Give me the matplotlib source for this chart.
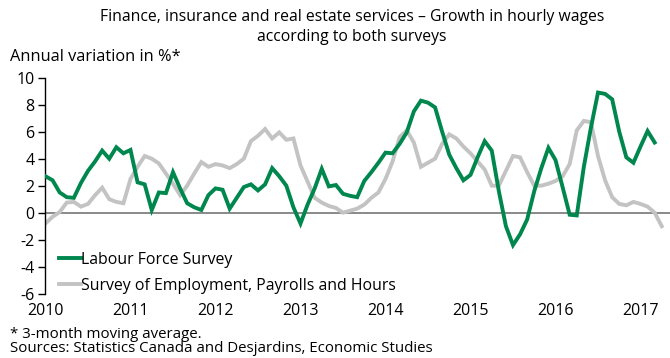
import matplotlib
matplotlib.use("Agg")
import matplotlib.pyplot as plt
import numpy as np

plt.rcParams['font.family'] = ['Open Sans', 'DejaVu Sans']

start_year = 2010
lfs = [2.7, 2.4, 1.5, 1.15, 1.1, 2.2, 3.1, 3.8, 4.6, 4.0, 4.85, 4.4,
       4.65, 2.25, 2.1, 0.2, 1.5, 1.45, 3.0, 1.8, 0.7, 0.4, 0.2, 1.3,
       1.8, 1.7, 0.3, 1.1, 1.9, 2.1, 1.65, 2.1, 3.3, 2.7, 2.0, 0.4,
       -0.8, 0.6, 1.8, 3.25, 1.95, 2.05, 1.4, 1.25, 1.15, 2.35, 3.0, 3.7,
       4.45, 4.4, 5.1, 5.95, 7.5, 8.3, 8.15, 7.8, 6.0, 4.3, 3.3, 2.4,
       2.8, 4.1, 5.3, 4.6, 1.6, -1.0, -2.4, -1.6, -0.5, 1.6, 3.3, 4.8,
       3.9, 1.9, -0.15, -0.2, 3.4, 6.3, 8.9, 8.8, 8.4, 6.0, 4.1, 3.7,
       4.9, 6.05, 5.2]
seph = [-0.8, -0.3, 0.05, 0.75, 0.8, 0.45, 0.65, 1.3, 1.85, 1.0, 0.8, 0.7,
        2.5, 3.4, 4.2, 4.0, 3.65, 2.9, 2.15, 1.3, 2.0, 2.9, 3.75, 3.4,
        3.6, 3.5, 3.3, 3.6, 4.0, 5.3, 5.7, 6.2, 5.5, 5.95, 5.4, 5.5,
        3.5, 2.3, 1.1, 0.75, 0.5, 0.35, 0.0, 0.15, 0.3, 0.6, 1.1, 1.5,
        2.5, 3.8, 5.6, 6.1, 5.2, 3.4, 3.7, 4.0, 5.1, 5.8, 5.5, 4.9,
        4.4, 3.8, 3.2, 2.0, 2.0, 3.1, 4.2, 4.1, 3.0, 2.0, 2.0, 2.15,
        2.35, 2.7, 3.6, 6.1, 6.8, 6.7, 4.2, 2.4, 1.15, 0.65, 0.55, 0.8,
        0.65, 0.45, 0.0, -1.0]
years = list(range(2010, 2018))
yticks = list(range(-6, 11, 2))

x_lfs = start_year + np.arange(len(lfs)) / 12.0
x_seph = start_year + np.arange(len(seph)) / 12.0

GREEN = '#00874E'
GREY = '#C3C3C3'

fig = plt.figure(figsize=(6.70, 3.58), dpi=100)
ax = fig.add_axes([45.5 / 670, 1 - 293.7 / 358, 1 - 45.5 / 670, 216 / 358])

ax.axhline(0, color='#808080', lw=1.3, zorder=1)
ax.plot(x_lfs, lfs, color=GREEN, lw=2.8, label='Labour Force Survey', zorder=3,
        solid_joinstyle='miter')
ax.plot(x_seph, seph, color=GREY, lw=2.8, label='Survey of Employment, Payrolls and Hours',
        zorder=2, solid_joinstyle='miter')

ax.set_xlim(2010, 2010 + 624.5 / 85)
ax.set_ylim(-6, 10)
ax.set_yticks(yticks)
ax.set_yticklabels([str(v) for v in yticks])
ax.set_xticks(years)
ax.set_xticklabels([str(y) for y in years])
for s in ['top', 'right', 'bottom']:
    ax.spines[s].set_visible(False)
ax.spines['left'].set_linewidth(1.0)
ax.tick_params(axis='y', direction='out', length=5, width=1.0, labelsize=11.5, pad=3)
ax.tick_params(axis='x', length=0, labelsize=11.5, pad=7)

leg = ax.legend(loc='lower left', bbox_to_anchor=(0.012, -0.03), frameon=False,
                fontsize=11.4, handlelength=1.4, handletextpad=0.0,
                labelspacing=0.64, borderaxespad=0)

fig.text(352 / 670, 1 - 17 / 358, 'Finance, insurance and real estate services – Growth in hourly wages',
         ha='center', va='center', fontsize=11.3)
fig.text(352 / 670, 1 - 37 / 358, 'according to both surveys', ha='center', va='center', fontsize=11.3)
fig.text(10 / 670, 1 - 57 / 358, 'Annual variation in %*', ha='left', va='center', fontsize=11.8)
fig.text(10 / 670, 1 - 334 / 358, '* 3-month moving average.', ha='left', va='center', fontsize=10.8)
fig.text(10 / 670, 2 / 358, 'Sources: Statistics Canada and Desjardins, Economic Studies',
         ha='left', va='bottom', fontsize=10.8)

fig.savefig('out.png', dpi=100)
